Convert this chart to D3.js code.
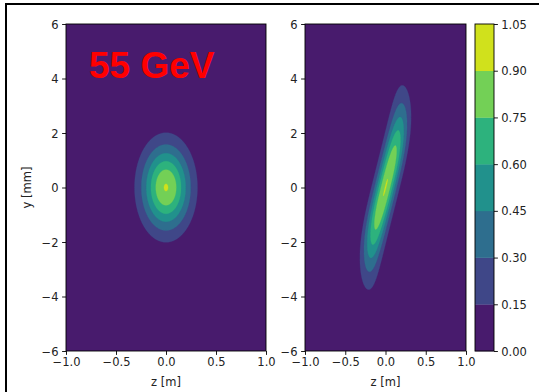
<!DOCTYPE html>
<html>
<head>
<meta charset="utf-8">
<script src="https://cdn.jsdelivr.net/npm/d3@7"></script>
<style>
  html, body { margin: 0; padding: 0; background: #ffffff; }
  svg { display: block; }
</style>
</head>
<body>
<script>
// ---------------- data ----------------
const levels = [0, 0.15, 0.30, 0.45, 0.60, 0.75, 0.90, 1.05];
const levelLabels = ["0.00", "0.15", "0.30", "0.45", "0.60", "0.75", "0.90", "1.05"];
const zTicks = [-1.0, -0.5, 0.0, 0.5, 1.0];
const zTickLabels = ["\u22121.0", "\u22120.5", "0.0", "0.5", "1.0"];
const yTicks = [-6, -4, -2, 0, 2, 4, 6];
const yTickLabels = ["\u22126", "\u22124", "\u22122", "0", "2", "4", "6"];
const zDomain = [-1, 1];
const yDomain = [-6, 6];
// left bunch: [peak, zCenter, yCenter, sigmaZ, sigmaY]
const leftBunch = [0.907, 0.0, 0.0, 0.166, 1.06];
// right bunch: [peak, sigmaZ, yLength, yExponent, tiltAmplitude, tiltLength]
const rightBunch = [0.903, 0.093, 2.98, 2.55, 0.21, 2.5];
const titleText = "55 GeV";
const zLabel = "z [m]";
const yLabel = "y [mm]";

// ---------------- layout ----------------
const W = 539, H = 392;
const FS = 11.5;
const FONT = "'DejaVu Sans', sans-serif";
const TXT = "#222222";
const leftPanel = { x0: 66, x1: 266, y0: 24, y1: 351 };
const rightPanel = { x0: 305, x1: 466, y0: 24, y1: 351 };
const cbar = { x0: 475, x1: 494, y0: 24, y1: 351 };

const svg = d3.select("body").append("svg").attr("width", W).attr("height", H);

// outer frame lines
svg.append("line").attr("x1", 5).attr("x2", W).attr("y1", 4).attr("y2", 4)
  .attr("stroke", "#000").attr("stroke-width", 2);
svg.append("line").attr("x1", 6).attr("x2", 6).attr("y1", 3).attr("y2", H)
  .attr("stroke", "#000").attr("stroke-width", 2);

const nLayers = levels.length - 1;
const lo = levels[0], hi = levels[levels.length - 1];
const layerColor = i => d3.interpolateViridis(((levels[i] + levels[i + 1]) / 2 - lo) / (hi - lo));

// grid
const nz = 401, ny = 601;
const dz = (zDomain[1] - zDomain[0]) / (nz - 1);
const dy = (yDomain[1] - yDomain[0]) / (ny - 1);

function leftField(z, y) {
  const [P, zc, yc, sz, sy] = leftBunch;
  return P * Math.exp(-((z - zc) ** 2) / (2 * sz * sz) - ((y - yc) ** 2) / (2 * sy * sy));
}
function rightField(z, y) {
  const [P, sz, a, p, A, L] = rightBunch;
  const zc = A * Math.sin(y / L);
  return P * Math.exp(-Math.pow(Math.abs(y) / a, p)) * Math.exp(-((z - zc) ** 2) / (2 * sz * sz));
}

function buildGrid(f) {
  const vals = new Float64Array(nz * ny);
  for (let j = 0; j < ny; j++) {
    const y = yDomain[0] + j * dy;
    for (let i = 0; i < nz; i++) {
      const z = zDomain[0] + i * dz;
      vals[j * nz + i] = f(z, y);
    }
  }
  return vals;
}

function styleText(sel) {
  sel.style("font-family", FONT).style("font-size", FS + "px").style("fill", TXT);
}

function drawPanel(panel, field, id, showTitle) {
  const xs = d3.scaleLinear().domain(zDomain).range([panel.x0, panel.x1]);
  const ys = d3.scaleLinear().domain(yDomain).range([panel.y1, panel.y0]);
  const g = svg.append("g");
  svg.append("clipPath").attr("id", id).append("rect")
    .attr("x", panel.x0).attr("y", panel.y0)
    .attr("width", panel.x1 - panel.x0).attr("height", panel.y1 - panel.y0);
  const plot = g.append("g").attr("clip-path", `url(#${id})`);
  plot.append("rect").attr("x", xs(zDomain[0])).attr("y", ys(yDomain[1]))
    .attr("width", xs(zDomain[1]) - xs(zDomain[0])).attr("height", ys(yDomain[0]) - ys(yDomain[1]))
    .attr("fill", layerColor(0));
  const vals = buildGrid(field);
  const contours = d3.contours().size([nz, ny]).thresholds(levels.slice(1, -1))(vals);
  const proj = d3.geoTransform({
    point: function (x, y) {
      this.stream.point(xs(zDomain[0] + (x - 0.5) * dz), ys(yDomain[0] + (y - 0.5) * dy));
    }
  });
  const path = d3.geoPath(proj);
  contours.forEach((c, k) => {
    plot.append("path").attr("d", path(c)).attr("fill", layerColor(k + 1))
      .attr("stroke", layerColor(k + 1)).attr("stroke-width", 0.3);
  });
  g.append("rect").attr("x", panel.x0).attr("y", panel.y0)
    .attr("width", panel.x1 - panel.x0).attr("height", panel.y1 - panel.y0)
    .attr("fill", "none").attr("stroke", "#000").attr("stroke-width", 0.9);
  const xAxis = d3.axisBottom(xs).tickValues(zTicks).tickSize(3.9).tickPadding(3.3)
    .tickFormat((d, i) => zTickLabels[i]);
  const xa = g.append("g").attr("transform", `translate(0,${panel.y1})`).call(xAxis);
  xa.select(".domain").remove();
  xa.selectAll("line").attr("stroke", "#000").attr("stroke-width", 0.9);
  xa.selectAll("text").call(styleText).attr("dy", "0.72em");
  const yAxis = d3.axisLeft(ys).tickValues(yTicks).tickSize(3.9).tickPadding(3.6)
    .tickFormat((d, i) => yTickLabels[i]);
  const ya = g.append("g").attr("transform", `translate(${panel.x0},0)`).call(yAxis);
  ya.select(".domain").remove();
  ya.selectAll("line").attr("stroke", "#000").attr("stroke-width", 0.9);
  ya.selectAll("text").call(styleText).attr("dy", "0.36em");
  g.append("text").attr("x", (panel.x0 + panel.x1) / 2).attr("y", 386)
    .attr("text-anchor", "middle").call(styleText).text(zLabel);
  if (showTitle) {
    g.append("text").attr("transform", `translate(30.5,${(panel.y0 + panel.y1) / 2}) rotate(-90)`)
      .attr("text-anchor", "middle").call(styleText).text(yLabel);
    g.append("text").attr("x", 89).attr("y", 78)
      .style("font-family", "'Liberation Sans', Arial, sans-serif").style("font-weight", "bold")
      .style("font-size", "37px").style("fill", "#ff0000").text(titleText);
  }
}

drawPanel(leftPanel, leftField, "clipL", true);
drawPanel(rightPanel, rightField, "clipR", false);

// colorbar
const cs = d3.scaleLinear().domain([lo, hi]).range([cbar.y1, cbar.y0]);
const cg = svg.append("g");
for (let i = 0; i < nLayers; i++) {
  cg.append("rect").attr("x", cbar.x0).attr("y", cs(levels[i + 1]))
    .attr("width", cbar.x1 - cbar.x0).attr("height", cs(levels[i]) - cs(levels[i + 1]) + 0.3)
    .attr("fill", layerColor(i));
}
cg.append("rect").attr("x", cbar.x0).attr("y", cbar.y0)
  .attr("width", cbar.x1 - cbar.x0).attr("height", cbar.y1 - cbar.y0)
  .attr("fill", "none").attr("stroke", "#000").attr("stroke-width", 0.9);
const cAxis = d3.axisRight(cs).tickValues(levels).tickSize(3.9).tickPadding(3.3)
  .tickFormat((d, i) => levelLabels[i]);
const ca = cg.append("g").attr("transform", `translate(${cbar.x1},0)`).call(cAxis);
ca.select(".domain").remove();
ca.selectAll("line").attr("stroke", "#000").attr("stroke-width", 0.9);
ca.selectAll("text").call(styleText).attr("dy", "0.36em");
</script>
</body>
</html>
